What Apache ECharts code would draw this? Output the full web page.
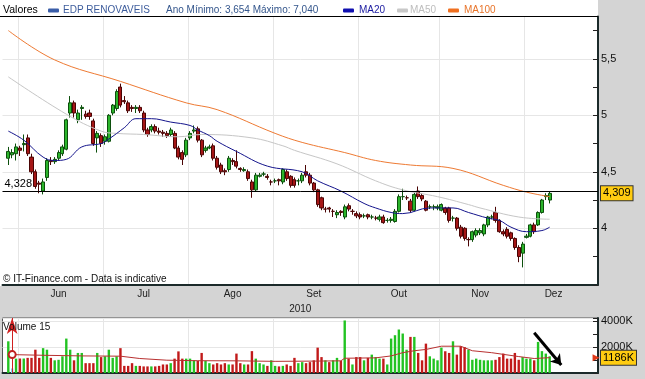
<!DOCTYPE html>
<html><head><meta charset="utf-8">
<script src="https://cdn.jsdelivr.net/npm/echarts/dist/echarts.min.js"></script>
<style>html,body{margin:0;padding:0;background:#d4d4d4;}#c{width:645px;height:379px;}</style>
</head><body><div id="c"></div><script>
// ---- trading days (categories) ----
const tradingDays = [
  ['2010-05', [26,27,28,31]],
  ['2010-06', [1,2,3,4,7,8,9,10,11,14,15,16,17,18,21,22,23,24,25,28,29,30]],
  ['2010-07', [1,2,5,6,7,8,9,12,13,14,15,16,19,20,21,22,23,26,27,28,29,30]],
  ['2010-08', [2,3,4,5,6,9,10,11,12,13,16,17,18,19,20,23,24,25,26,27,30,31]],
  ['2010-09', [1,2,3,6,7,8,9,10,13,14,15,16,17,20,21,22,23,24,27,28,29,30]],
  ['2010-10', [1,4,5,6,7,8,11,12,13,14,15,18,19,20,21,22,25,26,27,28,29]],
  ['2010-11', [1,2,3,4,5,8,9,10,11,12,15,16,17,18,19,22,23,24,25,26,29,30]],
  ['2010-12', [1,2,3,6,7,8,9,10,13,14,15,16,17,20,21,22,23,24,27]]
];
const monthStarts = ['2010-06-01','2010-07-01','2010-08-02','2010-09-01','2010-10-01','2010-11-01','2010-12-01'];
const monthLabels = {'2010-06-15':'Jun','2010-07-15':'Jul','2010-08-17':'Ago','2010-09-15':'Set','2010-10-15':'Out','2010-11-15':'Nov','2010-12-10':'Dez'};
const yearLabel = '2010';
const priceTicks = [4, 4.5, 5, 5.5];
const volumeTickLabels = [2000, 4000];

// ---- price data (from 2010-05-27) ----
const firstDate = '2010-05-27';
const opens = [4.62,4.65,4.66,4.71,4.74,4.80,4.63,4.50,4.40,4.33,4.45,4.60,4.59,4.62,4.66,4.70,5.02,5.11,4.96,5.06,
5.01,5.02,4.95,4.80,4.82,4.77,4.77,5.02,5.06,5.25,5.13,5.11,5.07,5.06,5.07,5.02,4.87,4.87,4.90,4.86,
4.85,4.84,4.83,4.84,4.71,4.67,4.65,4.80,4.86,4.88,4.78,4.69,4.71,4.73,4.62,4.56,4.51,4.52,4.60,4.59,
4.53,4.51,4.50,4.41,4.34,4.46,4.48,4.46,4.41,4.42,4.43,4.41,4.50,4.46,4.43,4.42,4.42,4.50,4.47,4.40,
4.34,4.27,4.17,4.18,4.15,4.12,4.15,4.10,4.20,4.15,4.13,4.12,4.11,4.12,4.10,4.09,4.08,4.10,4.07,4.07,
4.06,4.15,4.28,4.27,4.24,4.16,4.33,4.29,4.24,4.19,4.19,4.18,4.16,4.18,4.18,4.09,4.09,4.01,4.00,3.90,
3.90,3.94,3.96,3.95,4.03,4.10,4.14,4.07,3.97,3.99,3.96,3.91,3.83,3.78,3.92,3.93,4.03,4.03,4.14,4.28,4.25];
const closes = [4.68,4.67,4.72,4.69,4.75,4.66,4.50,4.37,4.39,4.41,4.60,4.59,4.61,4.67,4.72,4.96,5.11,5.02,5.02,5.07,
4.99,4.99,4.75,4.84,4.75,4.81,5.00,5.09,5.21,5.09,5.12,5.04,5.06,5.07,5.04,4.87,4.83,4.90,4.86,4.85,
4.84,4.82,4.87,4.71,4.63,4.61,4.78,4.84,4.87,4.78,4.65,4.71,4.72,4.62,4.54,4.50,4.50,4.62,4.59,4.55,
4.52,4.52,4.44,4.34,4.47,4.47,4.48,4.45,4.41,4.42,4.42,4.52,4.44,4.38,4.38,4.42,4.47,4.47,4.40,4.34,
4.21,4.18,4.17,4.17,4.15,4.14,4.14,4.19,4.17,4.15,4.11,4.10,4.11,4.10,4.10,4.09,4.10,4.05,4.07,4.08,
4.15,4.28,4.28,4.27,4.16,4.30,4.28,4.26,4.16,4.19,4.19,4.19,4.21,4.14,4.07,4.09,4.00,3.93,3.91,3.90,
3.97,3.98,3.98,4.03,4.10,4.10,4.07,3.97,3.95,3.93,3.91,3.83,3.75,3.86,3.93,4.03,3.97,4.14,4.25,4.29,4.309];
const lows = [4.56,4.62,4.60,4.64,4.68,4.64,4.48,4.35,4.31,4.30,4.42,4.56,4.57,4.60,4.64,4.69,4.98,4.98,4.93,4.96,
4.97,4.96,4.73,4.67,4.72,4.74,4.76,5.00,5.04,5.07,5.10,5.02,5.03,5.02,5.02,4.85,4.81,4.85,4.84,4.83,
4.81,4.80,4.81,4.70,4.61,4.56,4.63,4.78,4.84,4.76,4.63,4.67,4.70,4.60,4.52,4.48,4.47,4.50,4.56,4.53,
4.50,4.50,4.42,4.27,4.33,4.45,4.46,4.43,4.38,4.40,4.38,4.39,4.42,4.36,4.36,4.38,4.40,4.45,4.38,4.32,
4.19,4.16,4.14,4.14,4.10,4.09,4.11,4.08,4.15,4.12,4.09,4.08,4.09,4.08,4.08,4.07,4.06,4.04,4.05,4.05,
4.05,4.14,4.25,4.25,4.14,4.15,4.26,4.24,4.15,4.17,4.16,4.16,4.15,4.12,4.05,4.06,3.98,3.91,3.89,3.84,
3.88,3.92,3.94,3.93,4.01,4.08,4.05,3.96,3.93,3.91,3.89,3.81,3.70,3.654,3.91,3.92,3.95,4.02,4.13,4.25,4.22];
const highs = [4.72,4.70,4.75,4.73,4.83,4.83,4.66,4.52,4.42,4.44,4.62,4.63,4.63,4.69,4.74,4.97,5.17,5.13,5.05,5.09,
5.04,5.05,4.97,4.86,4.84,4.83,5.01,5.10,5.23,5.28,5.17,5.13,5.09,5.09,5.09,5.04,4.89,4.92,4.92,4.89,
4.87,4.86,4.89,4.86,4.73,4.69,4.80,4.86,4.91,4.90,4.79,4.73,4.74,4.75,4.64,4.58,4.53,4.64,4.62,4.69,
4.54,4.54,4.52,4.43,4.49,4.49,4.50,4.48,4.43,4.44,4.44,4.53,4.52,4.47,4.45,4.44,4.49,4.56,4.49,4.41,
4.35,4.28,4.19,4.19,4.17,4.16,4.16,4.21,4.22,4.17,4.15,4.14,4.13,4.13,4.12,4.11,4.12,4.12,4.09,4.10,
4.17,4.30,4.35,4.29,4.26,4.32,4.37,4.31,4.25,4.21,4.21,4.21,4.22,4.19,4.19,4.11,4.10,4.03,4.01,3.92,
3.98,4.00,4.00,4.04,4.11,4.12,4.19,4.08,3.99,4.01,3.97,3.92,3.85,3.88,3.95,4.04,4.05,4.15,4.26,4.31,4.33];
// volume in thousands
const volumes = [2450,350,1110,1120,1120,1170,1170,1800,1170,1920,1800,1170,980,1020,1290,2660,1800,980,1550,1550,
760,760,760,1550,1230,1290,1800,1170,1290,1920,550,550,760,550,550,510,510,510,510,550,
660,660,760,1110,1670,1110,1110,1110,980,940,1550,940,760,660,760,660,760,660,660,1500,
760,660,660,1690,1110,760,660,550,980,550,510,550,660,550,1170,760,840,760,840,980,
1960,1230,980,840,980,1170,940,4060,1110,660,1230,1230,980,1170,1420,1230,1110,1110,660,2660,
2920,3360,3050,1800,2790,2790,1550,980,2270,1290,1110,980,1960,1680,1550,2450,1420,2070,2000,1800,
1020,1110,1020,980,980,980,1020,1230,1500,1110,1110,1550,1020,1230,1110,1110,980,2400,1690,1500,1290];

// moving averages [date, value]
const ma20 = [['2010-05-27',4.86],['2010-06-02',4.78],['2010-06-09',4.63],['2010-06-14',4.60],['2010-06-17',4.61],
['2010-06-23',4.72],['2010-06-30',4.75],['2010-07-02',4.79],['2010-07-08',4.89],['2010-07-13',4.97],['2010-07-19',4.97],
['2010-07-26',4.94],['2010-08-02',4.91],['2010-08-04',4.87],['2010-08-09',4.82],['2010-08-11',4.77],['2010-08-18',4.68],
['2010-08-30',4.55],['2010-09-10',4.50],['2010-09-16',4.42],['2010-09-24',4.33],['2010-10-04',4.22],['2010-10-07',4.18],
['2010-10-13',4.14],['2010-10-18',4.13],['2010-10-27',4.18],['2010-11-04',4.18],['2010-11-10',4.14],['2010-11-17',4.09],
['2010-11-22',4.07],['2010-11-25',4.01],['2010-12-01',3.97],['2010-12-07',3.98],['2010-12-09',4.01]];
const ma50 = [['2010-05-27',5.34],['2010-06-17',5.01],['2010-06-30',4.86],['2010-07-06',4.84],['2010-07-15',4.83],
['2010-07-28',4.81],['2010-08-05',4.83],['2010-08-24',4.80],['2010-09-03',4.73],['2010-09-08',4.69],['2010-09-23',4.57],
['2010-10-07',4.42],['2010-10-18',4.34],['2010-10-29',4.28],['2010-11-10',4.21],['2010-11-15',4.18],['2010-11-29',4.10],
['2010-12-09',4.08]];
const ma100 = [['2010-05-27',5.75],['2010-06-14',5.49],['2010-07-07',5.30],['2010-07-30',5.11],['2010-08-11',5.05],
['2010-09-01',4.84],['2010-09-10',4.76],['2010-09-27',4.67],['2010-10-07',4.60],['2010-10-20',4.56],['2010-11-04',4.53],
['2010-11-23',4.38],['2010-12-01',4.32],['2010-12-09',4.28]];
const volMa15 = [['2010-05-28',1420],['2010-06-09',1370],['2010-06-23',1320],['2010-07-07',1300],['2010-07-14',1120],
['2010-07-23',990],['2010-08-04',950],['2010-08-18',940],['2010-09-01',900],['2010-09-15',920],['2010-09-24',940],
['2010-09-27',1140],['2010-10-07',1170],['2010-10-13',1320],['2010-10-18',1570],['2010-10-21',1720],['2010-10-26',1820],
['2010-11-01',2070],['2010-11-08',2070],['2010-11-11',1720],['2010-11-18',1570],['2010-11-29',1270],['2010-12-03',1120],
['2010-12-09',1186]];
const refLine = 4.328, lastPrice = 4.309, lastVolMa = 1186;
const cursorDate = '2010-05-28';
const arrowFrom = ['2010-12-03', 3110], arrowTo = ['2010-12-14', 620];

// ---- build ----
const categories = [];
tradingDays.forEach(([m, days]) => days.forEach(d => categories.push(m + '-' + String(d).padStart(2, '0'))));
const off = categories.indexOf(firstDate);
const candleData = closes.map((c, j) => [categories[off + j], opens[j], c, lows[j], highs[j]]);
const UP = '#2bb52b', UPB = '#0c4f0c', DN = '#a51616', DNB = '#4a0505';
const volData = volumes.map((v, j) => {
  const d = categories[off + j];
  const col = d === cursorDate ? '#7fd0f0' : (closes[j] >= opens[j] ? '#22c322' : '#c11a1a');
  return {value: [d, v], itemStyle: {color: col}};
});
const FONT = 'Liberation Sans, Arial, sans-serif';
const fmtNum = v => String(v).replace('.', ',');

const chart = echarts.init(document.getElementById('c'), null, {renderer: 'canvas'});
const xBase = {type: 'category', data: categories, boundaryGap: true};
const gridL = 2.5, gridR = 47;
chart.setOption({
  animation: false,
  backgroundColor: '#d4d4d4',
  textStyle: {fontFamily: FONT},
  grid: [
    {left: gridL, right: gridR, top: 16.4, bottom: 94.2, show: true, backgroundColor: '#fff', borderWidth: 0},
    {left: gridL, right: gridR, top: 318, bottom: 6, show: true, backgroundColor: '#fff', borderColor: '#555', borderWidth: 1}
  ],
  xAxis: [
    Object.assign({}, xBase, {
      gridIndex: 0,
      axisLine: {lineStyle: {color: '#1b2a2a', width: 2}},
      axisTick: {interval: (i, v) => monthStarts.includes(v), length: 4, lineStyle: {color: '#222'}},
      axisLabel: {interval: (i, v) => v in monthLabels, formatter: v => monthLabels[v] || '', color: '#222', fontSize: 10, margin: 4, fontFamily: FONT},
      splitLine: {show: true, interval: (i, v) => monthStarts.includes(v), lineStyle: {color: '#e6e6e6', width: 1}},
      name: yearLabel, nameLocation: 'middle', nameGap: 19,
      nameTextStyle: {color: '#222', fontSize: 10, fontFamily: FONT, verticalAlign: 'top'}
    }),
    Object.assign({}, xBase, {
      gridIndex: 1,
      axisLine: {lineStyle: {color: '#1b2a2a', width: 2}},
      axisTick: {show: false}, axisLabel: {show: false},
      splitLine: {show: true, interval: (i, v) => monthStarts.includes(v), lineStyle: {color: '#e6e6e6', width: 1}}
    })
  ],
  yAxis: [
    {gridIndex: 0, type: 'value', position: 'right', min: 3.5, max: 5.875, interval: 0.5,
     axisLine: {show: true, lineStyle: {color: '#1b2a2a', width: 2}}, axisTick: {show: false},
     axisLabel: {formatter: v => priceTicks.some(t => Math.abs(t - v) < 1e-6) ? fmtNum(v) : '', color: '#111', fontSize: 11, margin: 3, fontFamily: FONT, hideOverlap: false},
     splitLine: {show: true, lineStyle: {color: '#e6e6e6'}}},
    {gridIndex: 0, type: 'value', position: 'right', min: 3.5, max: 5.875, interval: 0.25,
     axisLine: {show: false}, axisLabel: {show: false}, splitLine: {show: false},
     axisTick: {show: true, inside: true, length: 5, lineStyle: {color: '#222'}}},
    {gridIndex: 1, type: 'value', position: 'right', min: 0, max: 4250, interval: 2000,
     axisLine: {show: true, lineStyle: {color: '#1b2a2a', width: 2}}, axisTick: {show: false},
     axisLabel: {show: false},
     splitLine: {show: true, lineStyle: {color: '#e6e6e6'}}},
    {gridIndex: 1, type: 'value', position: 'right', min: 0, max: 4250, interval: 1000,
     axisLine: {show: false}, splitLine: {show: false},
     axisLabel: {formatter: v => volumeTickLabels.includes(v) ? v + 'K' : '', color: '#111', fontSize: 11, margin: 3, fontFamily: FONT, hideOverlap: false, showMinLabel: true, showMaxLabel: true},
     axisTick: {show: true, inside: true, length: 5, lineStyle: {color: '#222'}}}
  ],
  series: [
    {type: 'candlestick', name: 'EDP RENOVAVEIS', xAxisIndex: 0, yAxisIndex: 0, data: candleData,
     encode: {x: 0, y: [1, 2, 3, 4]}, barWidth: 3.6,
     itemStyle: {color: UP, borderColor: UPB, color0: DN, borderColor0: DNB, borderWidth: 1},
     markLine: {silent: true, symbol: 'none', animation: false, data: [
       {yAxis: refLine, lineStyle: {color: '#000', width: 1, type: 'solid'},
        label: {show: true, position: 'insideStartTop', formatter: fmtNum(refLine), color: '#000', fontSize: 11, distance: 2, fontFamily: FONT}},
       {yAxis: lastPrice, lineStyle: {color: 'rgba(0,0,0,0)', width: 0},
        label: {show: true, position: 'end', formatter: fmtNum(lastPrice), color: '#000', fontSize: 11, distance: 3,
                backgroundColor: '#ffcc11', borderColor: '#333', borderWidth: 1, padding: [2, 2, 1, 2], fontFamily: FONT}}
     ]}},
    {type: 'line', name: 'MA100', xAxisIndex: 0, yAxisIndex: 0, data: ma100, encode: {x: 0, y: 1}, smooth: 0.4, symbol: 'none',
     lineStyle: {color: '#ee7a33', width: 1}, z: 3},
    {type: 'line', name: 'MA50', xAxisIndex: 0, yAxisIndex: 0, data: ma50, encode: {x: 0, y: 1}, smooth: 0.4, symbol: 'none',
     lineStyle: {color: '#c6c6c6', width: 1}, z: 3},
    {type: 'line', name: 'MA20', xAxisIndex: 0, yAxisIndex: 0, data: ma20, encode: {x: 0, y: 1}, smooth: 0.4, symbol: 'none',
     lineStyle: {color: '#14148c', width: 1}, z: 3},
    {type: 'bar', name: 'Volume', xAxisIndex: 1, yAxisIndex: 2, data: volData, encode: {x: 0, y: 1}, barWidth: 2.4,
     markLine: {silent: true, animation: false, data: [
       [{coord: arrowFrom, symbol: 'none'}, {coord: arrowTo, symbol: 'arrow', symbolSize: 10}],
       {xAxis: cursorDate, symbol: 'none', lineStyle: {color: '#d02020', width: 1, type: 'solid'}, label: {show: false}}
     ], lineStyle: {color: '#000', width: 3, type: 'solid'}, label: {show: false}}},
    {type: 'line', name: 'Volume 15', xAxisIndex: 1, yAxisIndex: 2, data: volMa15, encode: {x: 0, y: 1}, symbol: 'none',
     lineStyle: {color: '#b83030', width: 1}, z: 4,
     markPoint: {silent: true, animation: false, data: [
       {coord: [cursorDate, volMa15[0][1]], symbol: 'emptyCircle', symbolSize: 7, itemStyle: {color: '#c02020', borderColor: '#c02020'}, label: {show: false}},
       {coord: [categories[categories.length - 1], lastVolMa], symbol: 'triangle', symbolRotate: -90, symbolSize: 7, itemStyle: {color: '#e03a1a'}, label: {show: false}}
     ]},
     markLine: {silent: true, symbol: 'none', animation: false, data: [
       {yAxis: lastVolMa, lineStyle: {color: 'rgba(0,0,0,0)', width: 0},
        label: {show: true, position: 'end', formatter: lastVolMa + 'K', color: '#000', fontSize: 11, distance: 3,
                backgroundColor: '#ffcc11', borderColor: '#333', borderWidth: 1, padding: [2, 2, 1, 2], fontFamily: FONT}}
     ]}}
  ],
  graphic: [
    {type: 'rect', z: -10, silent: true, shape: {x: 0, y: 0, width: 598, height: 286}, style: {fill: '#fff'}},
    {type: 'line', z: 50, silent: true, shape: {x1: 0, y1: 16.5, x2: 598, y2: 16.5}, style: {stroke: '#000', lineWidth: 1}},
    {type: 'text', z: 50, x: 3, y: 10, style: {text: 'Valores', fill: '#000', font: '10.5px ' + FONT, verticalAlign: 'middle'}},
    {type: 'rect', z: 50, shape: {x: 48, y: 8.5, width: 11, height: 4, r: 1}, style: {fill: '#3a5da8'}},
    {type: 'text', z: 50, x: 63, y: 10, style: {text: 'EDP RENOVAVEIS', fill: '#3d5c9c', font: '10px ' + FONT, verticalAlign: 'middle'}},
    {type: 'text', z: 50, x: 166, y: 10, style: {text: 'Ano Mínimo: 3,654 Máximo: 7,040', fill: '#34568c', font: '10px ' + FONT, verticalAlign: 'middle'}},
    {type: 'rect', z: 50, shape: {x: 343, y: 8.5, width: 11, height: 4, r: 1}, style: {fill: '#1010b0'}},
    {type: 'text', z: 50, x: 359, y: 10, style: {text: 'MA20', fill: '#1a1aa0', font: '10px ' + FONT, verticalAlign: 'middle'}},
    {type: 'rect', z: 50, shape: {x: 397, y: 8.5, width: 11, height: 4, r: 1}, style: {fill: '#c8c8c8'}},
    {type: 'text', z: 50, x: 410, y: 10, style: {text: 'MA50', fill: '#bdbdbd', font: '10px ' + FONT, verticalAlign: 'middle'}},
    {type: 'rect', z: 50, shape: {x: 448, y: 8.5, width: 11, height: 4, r: 1}, style: {fill: '#f07020'}},
    {type: 'text', z: 50, x: 464, y: 10, style: {text: 'MA100', fill: '#e8742a', font: '10px ' + FONT, verticalAlign: 'middle'}},
    {type: 'text', z: 50, x: 3, y: 279, style: {text: '© IT-Finance.com - Data is indicative', fill: '#111', font: '10px Liberation Sans Narrow, ' + FONT, verticalAlign: 'middle'}},
    {type: 'text', z: 50, x: 3, y: 327, style: {text: 'Volume 15', fill: '#111', font: '10px ' + FONT, verticalAlign: 'middle'}}
  ]
});
</script></body></html>
